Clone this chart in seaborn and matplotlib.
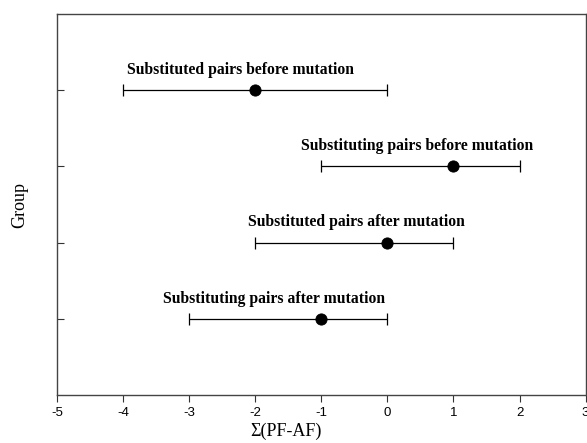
import numpy as np
import pandas as pd
import seaborn as sns
import matplotlib.pyplot as plt

groups = [
    "Substituted pairs before mutation",
    "Substituting pairs before mutation",
    "Substituted pairs after mutation",
    "Substituting pairs after mutation",
]
means = [-2, 1, 0, -1]
lows = [-4, -1, -2, -3]
highs = [0, 2, 1, 0]
label_x = [-2.22, 0.45, -0.47, -1.71]

df = pd.DataFrame({"group": groups, "mean": means, "low": lows, "high": highs})
df["pos"] = np.arange(1, len(df) + 1)

sns.set_style("ticks")

fig = plt.figure(figsize=(5.87, 4.43), dpi=100)
ax = fig.add_axes([0.0971, 0.1084, 0.9005, 0.8596])

ax.errorbar(
    df["mean"], df["pos"],
    xerr=[df["mean"] - df["low"], df["high"] - df["mean"]],
    fmt="none", ecolor="black", elinewidth=0.9, capsize=4, capthick=0.9,
)
sns.scatterplot(data=df, x="mean", y="pos", color="black", s=65,
                edgecolor="black", ax=ax, zorder=3, legend=False)

for i, row in df.iterrows():
    ax.text(label_x[i], row["pos"] - 0.16, row["group"], ha="center", va="bottom",
            fontsize=11.3, fontweight="bold", family="Liberation Serif", color="black")

ax.set_xlim(-5, 3)
ax.set_ylim(5, 0)
ax.set_xticks(range(-5, 4))
ax.set_xticklabels([str(v) for v in range(-5, 4)], family="Liberation Sans", fontsize=9.5)
ax.set_yticks(df["pos"])
ax.set_yticklabels([])
ax.tick_params(axis="x", direction="out", length=5, width=0.8, colors="#333333",
               labelcolor="black", pad=4)
ax.tick_params(axis="y", direction="in", length=5, width=0.8, colors="#333333")
for s in ax.spines.values():
    s.set_visible(True)
    s.set_color("#444444")
    s.set_linewidth(1.0)

ax.set_xlabel("Σ(PF-AF)", family="Liberation Serif", fontsize=13, color="black")
ax.xaxis.set_label_coords(0.433, -0.073)
ax.set_ylabel("Group", family="Liberation Serif", fontsize=13, color="black")
ax.yaxis.set_label_coords(-0.055, 0.5)

fig.savefig("out.png", dpi=100)
